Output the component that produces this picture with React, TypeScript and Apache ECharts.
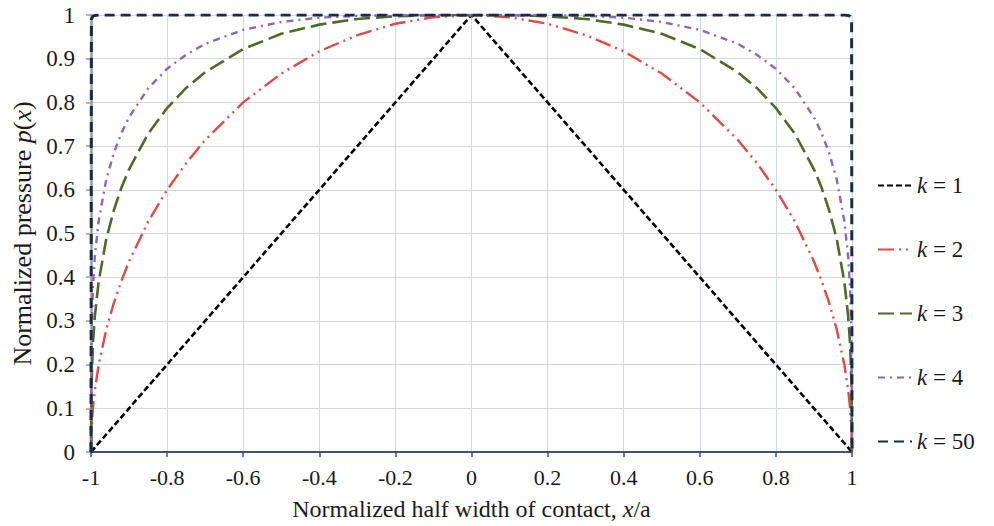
import React, { useEffect, useRef } from "react";
import * as echarts from "echarts";

// Sample positions (normalized half width x/a)
const xs = [
  -1, -0.999, -0.995, -0.99, -0.98, -0.96, -0.94, -0.92, -0.9, -0.85, -0.8, -0.75, -0.7, -0.6, -0.5, -0.4, -0.3, -0.2, -0.1,
  0,
  0.1, 0.2, 0.3, 0.4, 0.5, 0.6, 0.7, 0.75, 0.8, 0.85, 0.9, 0.92, 0.94, 0.96, 0.98, 0.99, 0.995, 0.999, 1,
];

// Half profiles, from x = -1 to x = 0 (the curves are symmetric)
const k1Half = [0, 0.001, 0.005, 0.01, 0.02, 0.04, 0.06, 0.08, 0.1, 0.15, 0.2, 0.25, 0.3, 0.4, 0.5, 0.6, 0.7, 0.8, 0.9, 1];
const k2Half = [0, 0.045, 0.1, 0.141, 0.199, 0.28, 0.341, 0.392, 0.436, 0.527, 0.6, 0.661, 0.714, 0.8, 0.866, 0.917, 0.954, 0.98, 0.995, 1];
const k3Half = [0, 0.144, 0.246, 0.31, 0.389, 0.487, 0.553, 0.605, 0.647, 0.728, 0.787, 0.833, 0.869, 0.922, 0.957, 0.978, 0.991, 0.997, 1, 1];
const k4Half = [0, 0.251, 0.375, 0.446, 0.528, 0.623, 0.684, 0.73, 0.766, 0.832, 0.877, 0.909, 0.934, 0.966, 0.984, 0.994, 0.998, 1, 1, 1];
const k50Half = [0, 0.99, 0.997, 0.999, 1, 1, 1, 1, 1, 1, 1, 1, 1, 1, 1, 1, 1, 1, 1, 1];

const seriesNames = ["k = 1", "k = 2", "k = 3", "k = 4", "k = 50"];
const halves = [k1Half, k2Half, k3Half, k4Half, k50Half];

const xTicks = { min: -1, max: 1, interval: 0.2 };
const yTicks = { min: 0, max: 1, interval: 0.1 };

const full = (half: number[]) => half.concat(half.slice(0, -1).reverse());

const styles = [
  { color: "#000000", width: 2.6, type: [6, 3] },
  { color: "#e04a45", width: 2.4, type: [16, 5, 2, 5, 2, 5] },
  { color: "#4f6a28", width: 2.6, type: [16, 6] },
  { color: "#8a66c4", width: 2.4, type: [7, 5, 2, 5] },
  { color: "#1b2a48", width: 3, type: [10, 6] },
];

const FONT = "'Liberation Serif', 'Times New Roman', serif";
const TXT = "#1a1a1a";

export default function App() {
  const ref = useRef<HTMLDivElement>(null);
  useEffect(() => {
    if (!ref.current) return;
    const chart = echarts.init(ref.current, undefined, { renderer: "svg" });
    const series = seriesNames.map((name, i) => {
      const ys = full(halves[i]);
      return {
        name,
        type: "line",
        data: xs.map((x, j) => [x, ys[j]]),
        showSymbol: false,
        symbol: "none",
        lineStyle: { ...styles[i] },
        itemStyle: { color: styles[i].color },
        z: 2 + i,
      };
    });
    chart.setOption({
      animation: false,
      backgroundColor: "#ffffff",
      textStyle: { fontFamily: FONT },
      grid: { left: 91, right: 142, top: 15, bottom: 73, containLabel: false },
      legend: {
        orient: "vertical",
        left: 872,
        top: 169,
        itemWidth: 34,
        itemHeight: 14,
        itemGap: 41,
        itemTextGap: 5,
        itemStyle: { opacity: 0 },
        data: seriesNames,
        formatter: (n: string) => "{i|k}{t|" + n.slice(1) + "}",
        textStyle: {
          fontFamily: FONT,
          fontSize: 23,
          color: TXT,
          rich: {
            i: { fontStyle: "italic", fontFamily: FONT, fontSize: 23, lineHeight: 24, color: TXT },
            t: { fontFamily: FONT, fontSize: 23, lineHeight: 24, color: TXT },
          },
        },
      },
      xAxis: {
        type: "value",
        min: xTicks.min,
        max: xTicks.max,
        interval: xTicks.interval,
        name: "{n|Normalized half width of contact, }{i|x}{n|/a}",
        nameLocation: "middle",
        nameGap: 45,
        nameTextStyle: {
          fontFamily: FONT,
          fontSize: 24,
          color: TXT,
          rich: {
            n: { fontFamily: FONT, fontSize: 24, color: TXT },
            i: { fontFamily: FONT, fontSize: 24, fontStyle: "italic", color: TXT },
          },
        },
        axisLine: { onZero: false, lineStyle: { color: "#3e5275", width: 2 } },
        axisTick: { show: true, inside: false, length: 5, lineStyle: { color: "#3e5275", width: 1.5 } },
        axisLabel: {
          fontFamily: FONT,
          fontSize: 22,
          color: TXT,
          margin: 14,
          formatter: (v: number) => String(Math.round(v * 10) / 10),
        },
        splitLine: { show: true, lineStyle: { color: "#c9d9ee", width: 1 } },
      },
      yAxis: {
        type: "value",
        min: yTicks.min,
        max: yTicks.max,
        interval: yTicks.interval,
        name: "{n|Normalized pressure }{i|p}{n|(}{i|x}{n|)}",
        nameLocation: "middle",
        nameGap: 52,
        nameTextStyle: {
          fontFamily: FONT,
          fontSize: 26,
          color: TXT,
          rich: {
            n: { fontFamily: FONT, fontSize: 26, color: TXT },
            i: { fontFamily: FONT, fontSize: 26, fontStyle: "italic", color: TXT },
          },
        },
        axisLine: { show: true, onZero: false, lineStyle: { color: "#9a9a9a", width: 2.5 } },
        axisTick: { show: true, inside: false, length: 5, lineStyle: { color: "#9a9a9a", width: 1.5 } },
        axisLabel: {
          fontFamily: FONT,
          fontSize: 23,
          color: TXT,
          margin: 16,
          formatter: (v: number) => String(Math.round(v * 10) / 10),
        },
        splitLine: { show: true, lineStyle: { color: "#d6d6d6", width: 1.2 } },
      },
      series,
    });
    return () => chart.dispose();
  }, []);
  return (
    <div
      ref={ref}
      style={{ position: "fixed", left: 0, top: 0, width: 994, height: 526 }}
    />
  );
}
